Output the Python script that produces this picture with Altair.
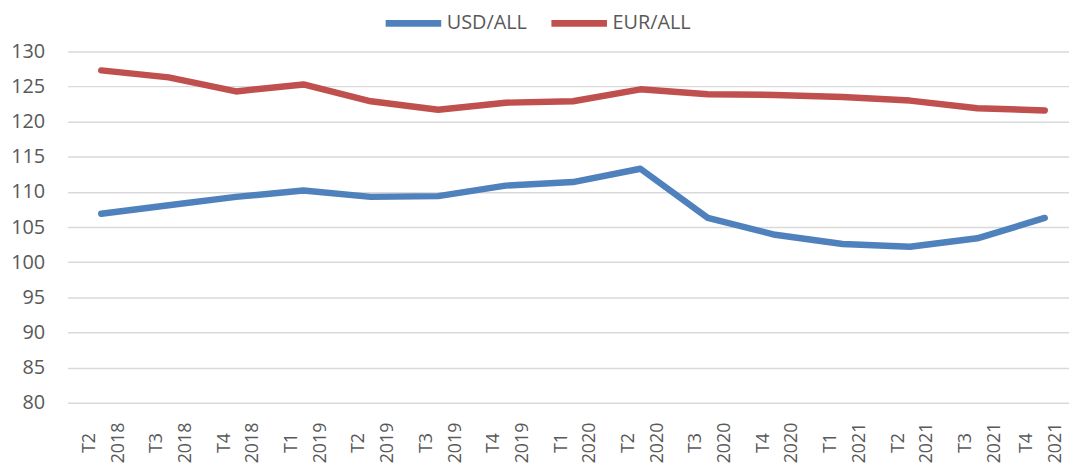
import json
import altair as alt
import pandas as pd

categories = ["T2 2018", "T3 2018", "T4 2018", "T1 2019", "T2 2019", "T3 2019", "T4 2019",
              "T1 2020", "T2 2020", "T3 2020", "T4 2020", "T1 2021", "T2 2021", "T3 2021", "T4 2021"]
usd = [106.9, 108.1, 109.3, 110.2, 109.3, 109.4, 110.9, 111.4, 113.3, 106.3, 103.9, 102.6, 102.2, 103.4, 106.3]
eur = [127.3, 126.3, 124.3, 125.3, 122.9, 121.7, 122.7, 122.9, 124.6, 123.9, 123.8, 123.5, 123.0, 121.9, 121.6]
series_names = ["USD/ALL", "EUR/ALL"]
colors = ["#4F81BD", "#C0504D"]
y_ticks = [80, 85, 90, 95, 100, 105, 110, 115, 120, 125, 130]

rows = []
for name, vals in zip(series_names, [usd, eur]):
    for i, (c, v) in enumerate(zip(categories, vals)):
        rows.append({"idx": i, "period": c, "series": name, "value": v})
df = pd.DataFrame(rows)

FONT = "Open Sans"
GRAY = "#595959"
label_expr = "split(" + json.dumps(categories) + "[datum.value], ' ')"
last_idx = len(categories) - 1

chart = alt.Chart(df).mark_line(strokeWidth=6.5, strokeCap="round", strokeJoin="round").encode(
    x=alt.X("idx:Q",
            scale=alt.Scale(domain=[-0.5, 14.36], nice=False, zero=False),
            axis=alt.Axis(title=None, values=list(range(len(categories))),
                          labelAngle=-90, labelAlign="center", labelBaseline="middle",
                          labelExpr=label_expr, labelLineHeight=29,
                          labelPadding=40,
                          labelOffset={"condition": {"test": f"datum.value == {last_idx}", "value": -18},
                                       "value": -12},
                          ticks=False, tickSize=0,
                          domain=False, grid=False, labelFlush=False,
                          labelFont=FONT, labelFontSize=18, labelColor=GRAY, labelOverlap=False)),
    y=alt.Y("value:Q", scale=alt.Scale(domain=[80, 130], nice=False, zero=False),
            axis=alt.Axis(title=None, values=y_ticks, ticks=False, tickSize=0, domain=False,
                          gridColor="#D9D9D9", gridWidth=1.5, labelPadding=23,
                          labelFont=FONT, labelFontSize=20, labelColor=GRAY)),
    color=alt.Color("series:N", sort=series_names,
                    scale=alt.Scale(domain=series_names, range=colors),
                    legend=alt.Legend(orient="none", legendX=317, legendY=-60, direction="horizontal",
                                      title=None, symbolType="stroke", symbolSize=3136,
                                      symbolStrokeWidth=7, labelFont=FONT, labelFontSize=20,
                                      labelColor=GRAY, labelOffset=2, columnPadding=10, padding=0)),
    order=alt.Order("idx:Q"),
).properties(
    width=1009, height=354,
    autosize=alt.AutoSizeParams(type="none"),
    padding={"left": 60, "top": 42, "right": 0, "bottom": 60},
).configure_view(stroke=None)

chart.save("out.html", embed_options={"renderer": "svg", "actions": False})
